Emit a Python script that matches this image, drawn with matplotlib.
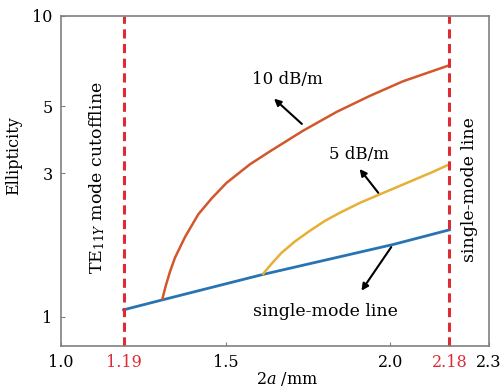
import matplotlib.pyplot as plt
import numpy as np

plt.rcParams['font.family'] = 'DejaVu Serif'
plt.rcParams['mathtext.fontset'] = 'dejavuserif'

# 数据
x_single = [1.19, 1.31, 1.61, 2.01, 2.18]
y_single = [1.055, 1.14, 1.38, 1.74, 1.945]

x_10db = [1.308, 1.319, 1.331, 1.346, 1.377, 1.417, 1.458, 1.503, 1.574,
          1.635, 1.735, 1.838, 1.939, 2.039, 2.18]
y_10db = [1.148, 1.277, 1.411, 1.570, 1.844, 2.190, 2.476, 2.787, 3.211,
          3.546, 4.149, 4.798, 5.423, 6.058, 6.85]

x_5db = [1.614, 1.641, 1.670, 1.711, 1.756, 1.802, 1.847, 1.908, 1.969,
         2.030, 2.080, 2.130, 2.18]
y_5db = [1.390, 1.506, 1.632, 1.781, 1.931, 2.084, 2.216, 2.391, 2.553,
         2.724, 2.874, 3.031, 3.21]

cutoff_lines = [1.19, 2.18]
xticks = [1.0, 1.19, 1.5, 2.0, 2.18, 2.3]
xtick_labels = ['1.0', '1.19', '1.5', '2.0', '2.18', '2.3']
yticks = [1, 3, 5, 10]

fig = plt.figure(figsize=(5.03, 3.89), dpi=100)
ax = fig.add_axes([0.1213, 0.1105, 0.8507, 0.849])

red = '#dd2c36'
ax.plot(x_single, y_single, color='#2874b2', linewidth=2)
ax.plot(x_10db, y_10db, color='#d2572a', linewidth=1.8)
ax.plot(x_5db, y_5db, color='#e5b035', linewidth=1.8)
for xc in cutoff_lines:
    ax.axvline(xc, color=red, linewidth=2.2, linestyle=(0, (3, 1.8)))

ax.set_yscale('log')
ax.set_xlim(1.0, 2.3)
ax.set_ylim(0.8, 10)
ax.set_yticks(yticks)
ax.set_yticklabels([str(v) for v in yticks])
ax.minorticks_off()
ax.set_xticks(xticks)
ax.set_xticklabels(xtick_labels)
for lbl, v in zip(ax.get_xticklabels(), xticks):
    if v in cutoff_lines:
        lbl.set_color(red)

for s in ax.spines.values():
    s.set_color('#808080')
    s.set_linewidth(1.2)
ax.tick_params(direction='in', length=3, color='#808080', labelsize=11.5, pad=6)

ax.set_xlabel(r'2$a$ /mm', fontsize=11.5)
ax.xaxis.set_label_coords(0.528, -0.072)
ax.set_ylabel('Ellipticity', fontsize=11.5)
ax.yaxis.set_label_coords(-0.09, 0.575)

# 标注
arrow = dict(arrowstyle='-|>', color='black', lw=1.5, mutation_scale=10)
ax.annotate('', xy=(1.641, 5.38), xytext=(1.738, 4.31), arrowprops=arrow)
ax.text(1.689, 6.13, '10 dB/m', ha='center', va='center', fontsize=12)
ax.annotate('', xy=(1.902, 3.15), xytext=(1.969, 2.54), arrowprops=arrow)
ax.text(1.905, 3.45, '5 dB/m', ha='center', va='center', fontsize=12)
ax.annotate('', xy=(1.908, 1.20), xytext=(2.008, 1.735), arrowprops=arrow)
ax.text(1.802, 1.039, 'single-mode line', ha='center', va='center', fontsize=12.5)

ax.text(1.109, 2.90, r'TE$_{11Y}$ mode cutoffline', rotation=90,
        ha='center', va='center', fontsize=12.5)
ax.text(2.242, 2.64, 'single-mode line', rotation=90,
        ha='center', va='center', fontsize=12.5)

plt.savefig('out.png', dpi=100)
